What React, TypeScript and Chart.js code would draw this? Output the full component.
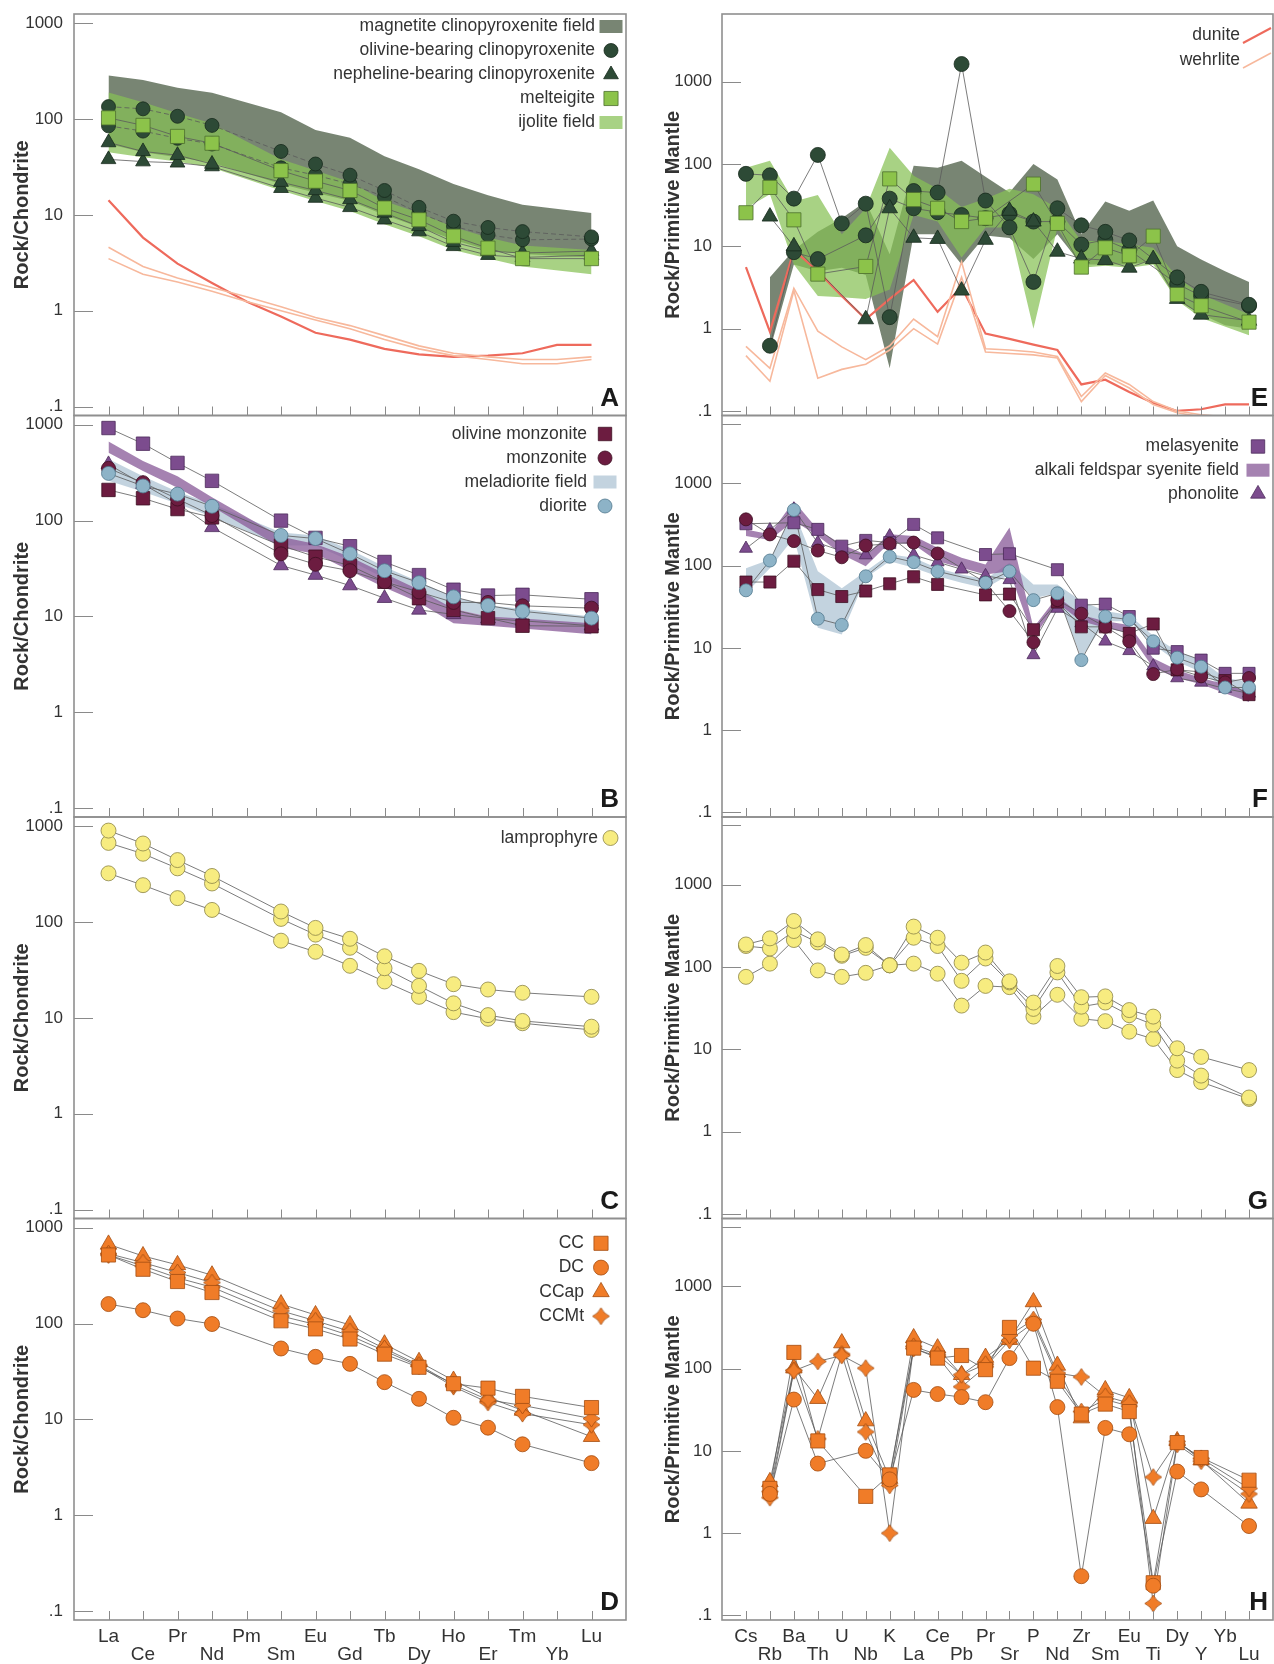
import React, { useEffect, useRef } from 'react';
import { Chart, registerables } from 'chart.js';

Chart.register(...registerables);

const FONT = "'Liberation Sans', Arial, Helvetica, sans-serif";
Chart.defaults.font.family = FONT;

// ---------------- categories & ticks ----------------
const REE = ['La', 'Ce', 'Pr', 'Nd', 'Pm', 'Sm', 'Eu', 'Gd', 'Tb', 'Dy', 'Ho', 'Er', 'Tm', 'Yb', 'Lu'];
const SPIDER = ['Cs', 'Rb', 'Ba', 'Th', 'U', 'Nb', 'K', 'La', 'Ce', 'Pb', 'Pr', 'Sr', 'P', 'Nd', 'Zr', 'Sm', 'Eu', 'Ti', 'Dy', 'Y', 'Yb', 'Lu'];
const Y_TICKS = [0.1, 1, 10, 100, 1000];
const Y_TICK_TEXT = ['.1', '1', '10', '100', '1000'];
const EXTRA_TICK = 5300;

// ---------------- Panel A (REE, ultramafic) ----------------
const A_magUp = [286, 256, 212, 188, null, 118, 77, 64, 41, 30, 21, 16, 12.8, null, 10.5];
const A_magLo = [55, 45, 40, 35, null, 21, 17, 14, 10, 7.5, 5.5, 4.3, 3.9, null, 3.6];
const A_ijoUp = [190, 150, 115, 90, null, 38, 29, 22, 14, 10.5, 7.5, 5.8, 4.8, null, 4.3];
const A_ijoLo = [45, 40, 36, 31, null, 18, 14, 11, 8, 6, 4.3, 3.5, 2.9, null, 2.4];
const A_olv1 = [135, 128, 107, 86, null, 46, 34, 26, 18, 12, 8.6, 7.4, 6.7, null, 5.9];
const A_olv2 = [85, 75, 63, 55, null, 31, 26, 21, 15.5, 10.5, 7.6, 6.2, 5.5, null, 5.6];
const A_nep1 = [57, 46, 42, 34, null, 22, 18, 14.5, 10.5, 7.6, 5.2, 4.2, 4.0, null, 4.2];
const A_nep2 = [38, 36, 35, 32, null, 19, 15, 12, 8.9, 6.7, 4.7, 3.8, 3.6, null, 3.8];
const A_mel = [103, 86, 66, 56, null, 29, 22.5, 18, 11.8, 8.9, 6, 4.5, 3.5, null, 3.5];
const A_dun = [14.2, 5.8, 3.1, 1.95, 1.25, 0.87, 0.59, 0.5, 0.4, 0.35, 0.33, 0.34, 0.36, 0.44, 0.44];
const A_weh1 = [4.6, 2.9, 2.2, 1.75, 1.4, 1.1, 0.85, 0.7, 0.55, 0.43, 0.36, 0.33, 0.31, 0.31, 0.33];
const A_weh2 = [3.5, 2.4, 2.0, 1.6, 1.25, 1.0, 0.8, 0.65, 0.5, 0.4, 0.34, 0.31, 0.28, 0.28, 0.31];

// ---------------- Panel B (REE, monzonite / diorite) ----------------
const B_meladUp = [440, 290, 200, 150, null, 75, 70, 50, 33, 23, 16, 13, 12, null, 10];
const B_meladLo = [260, 200, 150, 110, null, 55, 55, 38, 25, 17, 12, 10, 9, null, 8];
const B_afsUp = [670, 420, 290, 175, null, 68, 57, 42, 28, 19, 12, 10, 9.5, null, 8.5];
const B_afsLo = [510, 330, 220, 140, null, 52, 45, 30, 20, 14, 8.5, 8, 7.5, null, 6.5];
const B_olmz = [209, 171, 132, 108, null, 55, 42, 34, 23, 15.5, 11.7, 9.6, 8.0, null, 7.9];
const B_mz = [351, 249, 168, 113, null, 45, 35, 30, 23, 18, 14, 14, 12.9, null, 12.2];
const B_dio = [311, 230, 189, 141, null, 70, 65, 45, 30, 22.5, 16, 13, 11.3, null, 9.6];
const B_mls = [925, 635, 400, 260, null, 100, 66, 54, 37, 27, 19, 16.5, 16.8, null, 15.1];
const B_pho = [386, 240, 150, 85, null, 34, 27, 21, 15.5, 11.7, 10.5, 9.5, 9, null, 8];

// ---------------- Panel C (REE, lamprophyre) ----------------
const C_l1 = [902, 661, 444, 303, null, 129, 87, 67, 44, 31, 22.5, 19.8, 18.3, null, 16.6];
const C_l2 = [671, 517, 364, 253, null, 108, 74, 54, 33, 21.6, 14.2, 10.7, 9.3, null, 8.1];
const C_l3 = [323, 243, 178, 134, null, 64, 49, 35, 24, 16.6, 11.5, 9.8, 8.8, null, 7.5];

// ---------------- Panel D (REE, carbonatites) ----------------
const D_cc = [520, 369, 275, 211, null, 107, 88, 69, 48, 35, 23.6, 21.2, 17.4, null, 13.3];
const D_dc = [160, 138, 113, 99, null, 55, 45, 38, 24.5, 16.4, 10.4, 8.2, 5.5, null, 3.5];
const D_ccap = [671, 508, 410, 320, null, 160, 123, 97, 61, 40, 25.5, 17.1, 12.4, null, 6.6];
const D_ccmt1 = [537, 433, 341, 268, null, 136, 107, 83, 55, 37, 23, 16, 14, null, 10.2];
const D_ccmt2 = [520, 400, 300, 240, null, 120, 98, 75, 52, 36, 22, 15, 11.5, null, 8.8];

// ---------------- Panel E (spider, ultramafic) ----------------
const E_magUp = [null, 4.2, 9, 15, 22, 35, 8, 95, 90, 110, 70, 45, 100, 65, 14, 35, 27, 36, 10, 6.9, 5, 3.7];
const E_magLo = [null, 0.55, 6, 5, 5.5, 4.5, 0.33, 14, 14, 6, 13.5, 12.6, 7, 14, 6, 6, 6, 6.6, 2.2, 1.5, 1.1, 1.0];
const E_ijoUp = [90, 110, 35, 42, 14, 29, 158, 72, 50, 30, 38, 50, 43, 29, 11.6, 11.6, 10.6, 9.6, 4.2, 2.6, null, 1.5];
const E_ijoLo = [29, 43, 6, 2.5, 2.4, 2.3, 3, 24, 20, 7.3, 17, 17, 1.0, 17, 5.5, 5.8, 5.5, 6, 2.2, 1.35, null, 0.83];
const E_olv1 = [76, 73, 38, 129, 19, 33, 1.38, 47, 45, 1640, 36, 17, 3.7, 29, 18, 15, 11.8, null, 4.2, 2.8, null, 1.95];
const E_olv2 = [null, 0.62, 8.5, 7.0, null, 13.6, 38, 29, 26, 24, 22, 25, 20, 20, 10.5, 12, 9, null, 3.5, 2.5, null, 1.9];
const E_nep = [null, 23, 10, null, null, 1.3, 29, 12.7, 12.3, 2.9, 12, 27, 20, 8.6, 7.1, 6.8, 5.5, 7, 2.3, 1.48, null, 1.25];
const E_mel = [25.6, 52, 21, 4.6, null, 5.7, 66, 37, 29, 20, 22, null, 57, 19, 5.6, 9.6, 7.7, 13.3, 2.6, 1.9, null, 1.2];
const E_dun = [5.6, 0.92, 9, 5, 2.5, 1.3, 2.3, 3.9, 1.6, 3.2, 0.87, 0.75, 0.64, 0.55, 0.21, 0.24, 0.17, 0.125, 0.1, 0.105, 0.12, 0.12];
const E_weh1 = [0.61, 0.33, 3.1, 0.93, 0.6, 0.42, 0.62, 1.31, 0.8, 6.5, 0.57, 0.55, 0.52, 0.46, 0.15, 0.29, 0.21, 0.13, 0.1, 0.09, 0.085, 0.085];
const E_weh2 = [0.47, 0.23, 2.9, 0.25, 0.32, 0.37, 0.55, 1.0, 0.65, 4.2, 0.52, 0.5, 0.48, 0.44, 0.13, 0.27, 0.19, 0.12, 0.095, 0.085, 0.08, 0.08];

// ---------------- Panel F (spider, syenites) ----------------
const F_afsUp = [275, 240, 610, 275, 180, 136, 240, 228, 164, 124, 103, 290, 17.5, 42, 25, 21, 19, 7.5, 5.4, 4.3, 3.6, 2.9];
const F_afsLo = [228, 205, 350, 228, 136, 98, 190, 180, 113, 94, 78, 85, 13.2, 35, 21, 17.5, 15, 5.7, 4.3, 3.6, 2.8, 2.2];
const F_meladUp = [93, 118, 460, 85, 53, 85, 137, 124, 93, 78, 68, 108, 59, 59, 37, 28, 25, 14, 9.1, 7.1, 4.3, 3.9];
const F_meladLo = [46, 93, 218, 17.5, 14.5, 71, 113, 94, 74, 62, 53, 78, 40, 46, 7.5, 21, 21, 11, 6.8, 5.1, 3.2, 2.9];
const F_mls = [322, null, 331, 275, 172, 202, 190, 316, 217, null, 136, 139, null, 89, 33, 34, 24, 9.9, 9.0, 7.1, 4.9, 4.9];
const F_olmz = [63, 63, 113, 51, 42, 49, 60, 73, 59, null, 44, 45, 16.6, 36, 18, 18, 15, 19.5, 5.4, 5.1, 4.0, 2.7];
const F_mz = [364, 239, 198, 152, 126, 175, 184, 190, 140, null, 62, 28, 11.7, 38, 26, 18, 12, 4.8, 5.5, 4.5, 3.8, 4.3];
const F_dio = [50, 115, 473, 22.6, 19, 74, 128, 110, 85, null, 62, 85, 38, 46, 7.1, 24, 22, 12, 7.6, 5.9, 3.3, 3.3];
const F_pho = [161, 270, 480, 189, 150, 134, 228, 134, 110, 90, 75, 67, 8.2, 30, 20, 12, 9.2, 6, 4.3, 3.8, 3.2, 2.8];

// ---------------- Panel G (spider, lamprophyre) ----------------
const G_l1 = [188, 223, 363, 217, 142, 185, 105, 310, 227, 113, 150, 67, 37, 103, 43, 44, 30, 25, 10.3, 8.1, null, 5.6];
const G_l2 = [180, 168, 274, 199, 137, 171, 105, 227, 180, 68, 127, 65, 31, 86, 33, 37, 26, 20, 7.3, 4.8, null, 2.6];
const G_l3 = [76, 110, 213, 91, 76, 85, 105, 110, 83, 34, 59, 57, 25, 46, 23.5, 22, 16.4, 13.4, 5.6, 4.0, null, 2.5];

// ---------------- Panel H (spider, carbonatites) ----------------
const H_cc = [null, 3.5, 157, 13.2, null, 2.8, 5.1, 177, 134, 144, 97, 316, 101, 70, 28, 37, 30, 0.25, 12.6, 8.3, null, 4.4];
const H_dc = [null, 3.0, 42, 7.0, null, 10, 4.5, 55, 49, 45, 39, 134, 350, 34, 0.30, 19, 15.9, 0.23, 5.6, 3.4, null, 1.22];
const H_ccap = [null, 4.2, 101, 43, 204, 23, 4.6, 235, 177, 84, 136, 224, 644, 109, 25, 55, 44, 1.5, 13.2, 7.7, null, 2.3];
const H_ccmt1 = [null, 2.7, 94, 122, 144, 101, 1.0, 186, 147, 84, 113, 253, 393, 88, 79, 46, 38, 4.8, 13, 8.1, null, 3.5];
const H_ccmt2 = [null, 3.2, 95, 14, 150, 17, 3.8, 175, 140, 60, 105, 220, 360, 80, 30, 42, 35, 0.14, 12, 7.5, null, 3.0];

// ---------------- colours ----------------
const MAG_FIELD = 'rgba(105,120,100,0.9)';
const IJO_FIELD = 'rgba(135,192,85,0.72)';
const AFS_FIELD = 'rgba(140,95,155,0.78)';
const MELAD_FIELD = 'rgba(180,200,215,0.8)';
const DG = '#2d4a36', DGE = '#17291c';
const MEL = '#8cc34a', MELE = '#4d6e2e';
const MAR = '#6c1c40', MARE = '#3e0f22';
const PUR = '#7c4c8e', PURE = '#4b2a5a';
const DIO = '#8db3c7', DIOE = '#52798e';
const LAM = '#f7ec80', LAME = '#8c8448';
const ORA = '#f07c28', ORAE = '#a34c10';
const DUN = '#ee6a5c', WEH = '#f7b89c';
const LINK = '#5a5a5a';

// ---------------- layout ----------------
const PAGE_W = 1274, PAGE_H = 1664;
const FRAME_TOPS = [14, 415.5, 817, 1218.5];
const FRAME_H = 401.5;
const X_AXIS_H = 44;
const COLS = [
  { left: 0, width: 640, axisW: 74, padRight: 14, tickPad: 11, titlePad: 10, yMin: 0.0807, yMax: 1250, title: 'Rock/Chondrite', cats: REE, letterDx: 7 },
  { left: 640, width: 634, axisW: 82, padRight: 1, tickPad: 10, titlePad: 21, yMin: 0.0881, yMax: 6650, title: 'Rock/Primitive Mantle', cats: SPIDER, letterDx: 5 },
];

const sm = (data, mk, fill, edge, r, dash?) => ({ data, mk, fill, edge, r, dash });

const PANELS = [
  {
    col: 0, row: 0, letter: 'A',
    fields: [{ up: A_magUp, lo: A_magLo, color: MAG_FIELD }, { up: A_ijoUp, lo: A_ijoLo, color: IJO_FIELD }],
    lines: [{ data: A_weh1, color: WEH, w: 1.6 }, { data: A_weh2, color: WEH, w: 1.6 }, { data: A_dun, color: DUN, w: 2.2 }],
    samples: [sm(A_mel, 'rect', MEL, MELE, 10), sm(A_olv1, 'circle', DG, DGE, 7, [5, 3]), sm(A_olv2, 'circle', DG, DGE, 7, [5, 3]), sm(A_nep1, 'triangle', DG, DGE, 8.5), sm(A_nep2, 'triangle', DG, DGE, 8.5)],
    legend: { textDx: 31, symDx: 15, y0: 12.5, dy: 24, items: [
      { text: 'magnetite clinopyroxenite field', kind: 'field', fill: MAG_FIELD },
      { text: 'olivine-bearing clinopyroxenite', kind: 'circle', r: 7, fill: DG, edge: DGE },
      { text: 'nepheline-bearing clinopyroxenite', kind: 'triangle', r: 8.5, fill: DG, edge: DGE },
      { text: 'melteigite', kind: 'rect', r: 10, fill: MEL, edge: MELE },
      { text: 'ijolite field', kind: 'field', fill: IJO_FIELD },
    ] },
  },
  {
    col: 0, row: 1, letter: 'B',
    fields: [{ up: B_meladUp, lo: B_meladLo, color: MELAD_FIELD }, { up: B_afsUp, lo: B_afsLo, color: AFS_FIELD }],
    lines: [],
    samples: [sm(B_dio, 'circle', DIO, DIOE, 7), sm(B_mz, 'circle', MAR, MARE, 7), sm(B_olmz, 'rect', MAR, MARE, 9.5), sm(B_mls, 'rect', PUR, PURE, 9.5), sm(B_pho, 'triangle', PUR, PURE, 8.5)],
    legend: { textDx: 39, symDx: 21, y0: 18.5, dy: 24, items: [
      { text: 'olivine monzonite', kind: 'rect', r: 9.5, fill: MAR, edge: MARE },
      { text: 'monzonite', kind: 'circle', r: 7, fill: MAR, edge: MARE },
      { text: 'meladiorite field', kind: 'field', fill: MELAD_FIELD },
      { text: 'diorite', kind: 'circle', r: 7, fill: DIO, edge: DIOE },
    ] },
  },
  {
    col: 0, row: 2, letter: 'C',
    fields: [], lines: [],
    samples: [sm(C_l1, 'circle', LAM, LAME, 7.5), sm(C_l2, 'circle', LAM, LAME, 7.5), sm(C_l3, 'circle', LAM, LAME, 7.5)],
    legend: { textDx: 28, symDx: 15.5, y0: 21, dy: 24, items: [{ text: 'lamprophyre', kind: 'circle', r: 7.5, fill: LAM, edge: LAME }] },
  },
  {
    col: 0, row: 3, letter: 'D',
    fields: [], lines: [],
    samples: [sm(D_dc, 'circle', ORA, ORAE, 7.5), sm(D_cc, 'rect', ORA, ORAE, 10), sm(D_ccmt1, 'star', ORA, ORAE, 9), sm(D_ccmt2, 'star', ORA, ORAE, 9), sm(D_ccap, 'triangle', ORA, ORAE, 9.5)],
    legend: { textDx: 42, symDx: 25, y0: 24.8, dy: 24.3, items: [
      { text: 'CC', kind: 'rect', r: 10, fill: ORA, edge: ORAE },
      { text: 'DC', kind: 'circle', r: 7.5, fill: ORA, edge: ORAE },
      { text: 'CCap', kind: 'triangle', r: 9.5, fill: ORA, edge: ORAE },
      { text: 'CCMt', kind: 'star', r: 9, fill: ORA, edge: ORAE },
    ] },
  },
  {
    col: 1, row: 0, letter: 'E',
    fields: [{ up: E_magUp, lo: E_magLo, color: MAG_FIELD }, { up: E_ijoUp, lo: E_ijoLo, color: IJO_FIELD }],
    lines: [{ data: E_weh1, color: WEH, w: 1.6 }, { data: E_weh2, color: WEH, w: 1.6 }, { data: E_dun, color: DUN, w: 2.2 }],
    samples: [sm(E_mel, 'rect', MEL, MELE, 10), sm(E_nep, 'triangle', DG, DGE, 9), sm(E_olv1, 'circle', DG, DGE, 7.5), sm(E_olv2, 'circle', DG, DGE, 7.5)],
    legend: { textDx: 33, symDx: 15, y0: 21, dy: 25, items: [
      { text: 'dunite', kind: 'line', edge: DUN, w: 2 },
      { text: 'wehrlite', kind: 'line', edge: WEH, w: 1.5 },
    ] },
  },
  {
    col: 1, row: 1, letter: 'F', extraTick: EXTRA_TICK,
    fields: [{ up: F_meladUp, lo: F_meladLo, color: MELAD_FIELD }, { up: F_afsUp, lo: F_afsLo, color: AFS_FIELD }],
    lines: [],
    samples: [sm(F_dio, 'circle', DIO, DIOE, 6.5), sm(F_mz, 'circle', MAR, MARE, 6.5), sm(F_olmz, 'rect', MAR, MARE, 8.5), sm(F_mls, 'rect', PUR, PURE, 8.5), sm(F_pho, 'triangle', PUR, PURE, 7.5)],
    legend: { textDx: 34, symDx: 15, y0: 31, dy: 23.7, items: [
      { text: 'melasyenite', kind: 'rect', r: 9.5, fill: PUR, edge: PURE },
      { text: 'alkali feldspar syenite field', kind: 'field', fill: AFS_FIELD },
      { text: 'phonolite', kind: 'triangle', r: 8.5, fill: PUR, edge: PURE },
    ] },
  },
  {
    col: 1, row: 2, letter: 'G', extraTick: EXTRA_TICK,
    fields: [], lines: [],
    samples: [sm(G_l1, 'circle', LAM, LAME, 7.5), sm(G_l2, 'circle', LAM, LAME, 7.5), sm(G_l3, 'circle', LAM, LAME, 7.5)],
    legend: null,
  },
  {
    col: 1, row: 3, letter: 'H', extraTick: EXTRA_TICK,
    fields: [], lines: [],
    samples: [sm(H_dc, 'circle', ORA, ORAE, 7.5), sm(H_cc, 'rect', ORA, ORAE, 10), sm(H_ccmt1, 'star', ORA, ORAE, 9), sm(H_ccmt2, 'star', ORA, ORAE, 9), sm(H_ccap, 'triangle', ORA, ORAE, 9.5)],
    legend: null,
  },
];

// ---------------- helpers ----------------
const xy = (arr) => arr.map((v, i) => (v == null ? null : { x: i, y: v })).filter(Boolean);

function makeStar(size, fill, edge) {
  const c = document.createElement('canvas');
  c.width = size; c.height = size;
  const g = c.getContext('2d');
  const m = size / 2, R = size / 2 - 1, k = size * 0.14;
  g.beginPath();
  g.moveTo(m, m - R);
  g.quadraticCurveTo(m + k, m - k, m + R, m);
  g.quadraticCurveTo(m + k, m + k, m, m + R);
  g.quadraticCurveTo(m - k, m + k, m - R, m);
  g.quadraticCurveTo(m - k, m - k, m, m - R);
  g.closePath();
  g.fillStyle = fill; g.fill();
  g.strokeStyle = edge; g.lineWidth = 0.8; g.stroke();
  return c;
}

function drawSym(ctx, kind, x, y, r, fill, edge, star) {
  if (kind === 'star') { ctx.drawImage(star, x - star.width / 2, y - star.height / 2); return; }
  ctx.save();
  ctx.fillStyle = fill; ctx.strokeStyle = edge; ctx.lineWidth = 0.8;
  ctx.beginPath();
  if (kind === 'circle') ctx.arc(x, y, r, 0, Math.PI * 2);
  else if (kind === 'rect') { const s = r * Math.SQRT1_2; ctx.rect(x - s, y - s, 2 * s, 2 * s); }
  else if (kind === 'triangle') {
    let a = 0;
    ctx.moveTo(x + Math.sin(a) * r, y - Math.cos(a) * r);
    a += (2 * Math.PI) / 3; ctx.lineTo(x + Math.sin(a) * r, y - Math.cos(a) * r);
    a += (2 * Math.PI) / 3; ctx.lineTo(x + Math.sin(a) * r, y - Math.cos(a) * r);
    ctx.closePath();
  }
  ctx.fill(); ctx.stroke();
  ctx.restore();
}

function buildDatasets(p, star) {
  const ds = [];
  p.fields.forEach((f, k) => {
    ds.push({ data: xy(f.up), fill: '+1', backgroundColor: f.color, borderWidth: 0, borderColor: 'rgba(0,0,0,0)', pointRadius: 0, tension: 0, order: 40 - k });
    ds.push({ data: xy(f.lo), fill: false, borderWidth: 0, borderColor: 'rgba(0,0,0,0)', pointRadius: 0, tension: 0, order: 40 - k });
  });
  p.lines.forEach((l) => ds.push({ data: xy(l.data), borderColor: l.color, borderWidth: l.w, pointRadius: 0, fill: false, tension: 0, order: 8 }));
  p.samples.forEach((s) => ds.push({ data: xy(s.data), borderColor: LINK, borderWidth: 0.8, borderDash: s.dash || [], pointRadius: 0, fill: false, tension: 0, order: 5 }));
  p.samples.forEach((s) => ds.push({
    data: xy(s.data), showLine: false, fill: false,
    pointStyle: s.mk === 'star' ? star : s.mk, pointRadius: s.r,
    pointBackgroundColor: s.fill, pointBorderColor: s.edge, pointBorderWidth: 0.8, order: 1,
  }));
  return ds;
}

function decoPlugin(spec, col, star) {
  return {
    id: 'deco',
    afterDraw(chart) {
      const ctx = chart.ctx, a = chart.chartArea;
      const xs = chart.scales.x, ys = chart.scales.y;
      ctx.save();
      ctx.strokeStyle = '#8a8a8a'; ctx.lineWidth = 1;
      ctx.beginPath();
      const ticks = spec.extraTick ? [...Y_TICKS, spec.extraTick] : Y_TICKS;
      ticks.forEach((v) => { const y = Math.round(ys.getPixelForValue(v)) + 0.5; ctx.moveTo(a.left, y); ctx.lineTo(a.left + 19, y); });
      col.cats.forEach((_, i) => { const x = Math.round(xs.getPixelForValue(i)) + 0.5; ctx.moveTo(x, a.bottom); ctx.lineTo(x, a.bottom - 9); });
      ctx.stroke();
      ctx.lineWidth = 1.6; ctx.strokeStyle = '#8f8f8f';
      ctx.strokeRect(a.left, a.top, a.right - a.left, a.bottom - a.top);

      const L = spec.legend;
      if (L) {
        L.items.forEach((it, k) => {
          const y = a.top + L.y0 + k * L.dy;
          ctx.font = `17.5px ${FONT}`; ctx.textAlign = 'right'; ctx.textBaseline = 'middle'; ctx.fillStyle = '#333';
          ctx.fillText(it.text, a.right - L.textDx, y);
          const sx = a.right - L.symDx;
          if (it.kind === 'field') {
            ctx.fillStyle = it.fill; ctx.fillRect(sx - 11.5, y - 6.5, 23, 13);
          } else if (it.kind === 'line') {
            ctx.strokeStyle = it.edge; ctx.lineWidth = it.w;
            ctx.beginPath(); ctx.moveTo(a.right - 30, y + 8); ctx.lineTo(a.right - 2, y - 7); ctx.stroke();
          } else {
            drawSym(ctx, it.kind, sx, y, it.r, it.fill, it.edge, star);
          }
        });
      }
      ctx.font = `bold 26px ${FONT}`; ctx.textAlign = 'right'; ctx.textBaseline = 'alphabetic'; ctx.fillStyle = '#1a1a1a';
      ctx.fillText(spec.letter, a.right - col.letterDx, a.bottom - 10);
      ctx.restore();
    },
  };
}

function geom(row) {
  const frameTop = FRAME_TOPS[row];
  const top = Math.floor(frameTop) - 12;
  const padTop = frameTop - top;
  const isBottom = row === 3;
  const height = isBottom ? PAGE_H - top : Math.ceil(padTop + FRAME_H + 12);
  const padBottom = height - padTop - FRAME_H - (isBottom ? X_AXIS_H : 0);
  return { top, height, padTop, padBottom, isBottom };
}

function makeConfig(spec, star) {
  const col = COLS[spec.col];
  const g = geom(spec.row);
  const n = col.cats.length;
  const xScale: any = {
    type: 'linear', min: -1, max: n, bounds: 'data', display: g.isBottom, position: 'bottom',
    grid: { display: false, drawTicks: false }, border: { display: false },
    afterBuildTicks: (s) => { s.ticks = col.cats.map((_, i) => ({ value: i })); },
    ticks: {
      autoSkip: false, maxRotation: 0, minRotation: 0, padding: 8, color: '#333',
      font: { size: 19, lineHeight: 0.95 },
      callback: (v) => { const i = Math.round(v); const name = col.cats[i]; if (name === undefined) return ''; return i % 2 === 0 ? [name] : ['', name]; },
    },
  };
  xScale.afterFit = (s) => {
    if (g.isBottom) s.height = X_AXIS_H;
    s.paddingLeft = 0; s.paddingRight = 0; s.paddingTop = 0; s.paddingBottom = 0;
  };
  return {
    type: 'line',
    data: { datasets: buildDatasets(spec, star) },
    options: {
      responsive: false, animation: false, devicePixelRatio: 1, events: [],
      layout: { autoPadding: false, padding: { left: 0, right: col.padRight, top: g.padTop, bottom: g.padBottom } },
      plugins: { legend: { display: false }, tooltip: { enabled: false }, filler: { propagate: false, drawTime: 'beforeDatasetsDraw' } },
      scales: {
        x: xScale,
        y: {
          type: 'logarithmic', min: col.yMin, max: col.yMax, bounds: 'data', position: 'left',
          grid: { display: false, drawTicks: false }, border: { display: false },
          afterBuildTicks: (s) => { s.ticks = Y_TICKS.map((v) => ({ value: v })); },
          afterFit: (s) => { s.width = col.axisW; s.paddingTop = 0; s.paddingBottom = 0; s.paddingLeft = 0; s.paddingRight = 0; },
          ticks: { autoSkip: false, padding: col.tickPad, color: '#333', font: { size: 17 }, callback: (v) => { const k = Y_TICKS.indexOf(v); return k >= 0 ? Y_TICK_TEXT[k] : ''; } },
          title: { display: true, text: col.title, color: '#333', font: { size: 20, weight: 'bold' }, padding: { top: col.titlePad, bottom: 0 } },
        },
      },
    },
    plugins: [decoPlugin(spec, col, star)],
  };
}

function Panel({ spec }) {
  const ref = useRef<HTMLCanvasElement>(null);
  const col = COLS[spec.col];
  const g = geom(spec.row);
  useEffect(() => {
    if (!ref.current) return;
    const star = makeStar(19, ORA, ORAE);
    const chart = new Chart(ref.current, makeConfig(spec, star) as any);
    return () => chart.destroy();
  }, [spec]);
  return (
    <canvas
      ref={ref}
      width={col.width}
      height={g.height}
      style={{ position: 'absolute', left: col.left, top: g.top, width: col.width, height: g.height }}
    />
  );
}

export default function App() {
  return (
    <div style={{ position: 'absolute', left: 0, top: 0, width: PAGE_W, height: PAGE_H, background: '#fff', overflow: 'hidden' }}>
      {PANELS.map((p) => <Panel key={p.letter} spec={p} />)}
    </div>
  );
}
